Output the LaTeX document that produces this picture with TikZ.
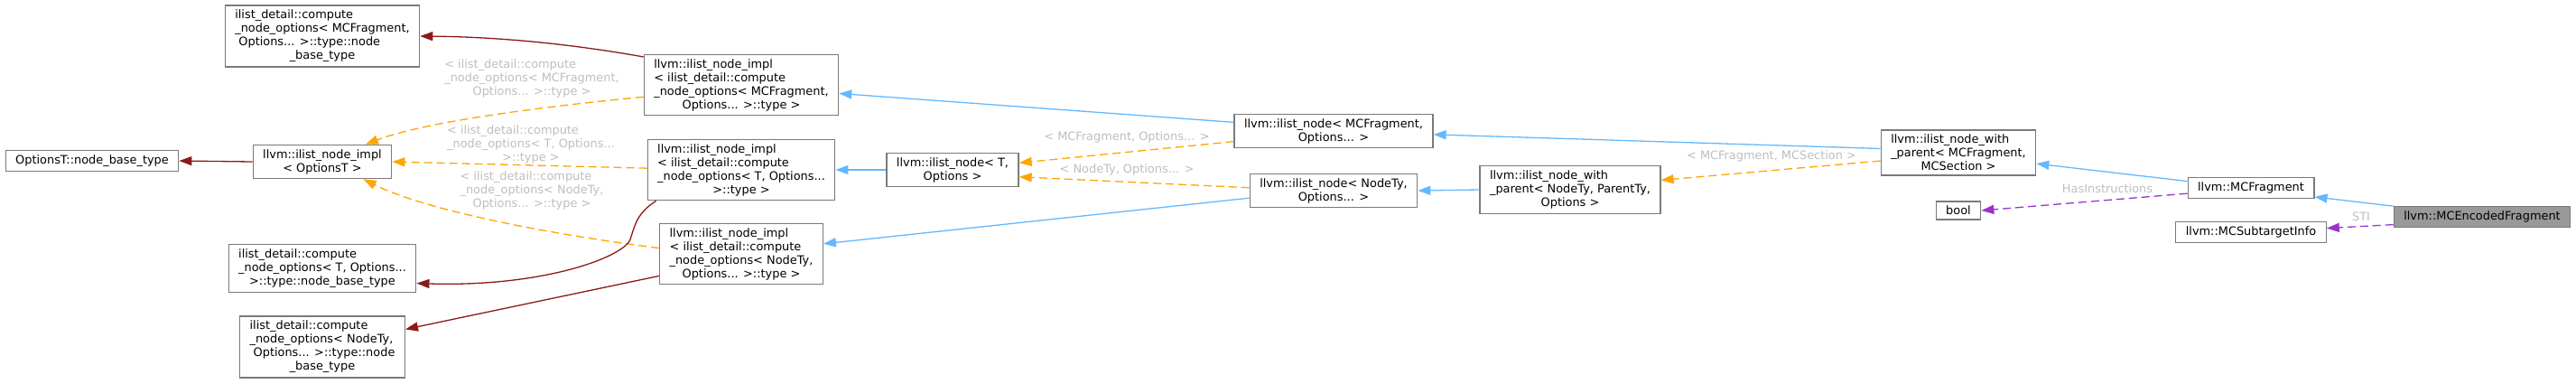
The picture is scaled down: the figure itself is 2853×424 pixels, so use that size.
\documentclass[tikz,border=0pt]{standalone}
\usepackage{fontspec}
\setmainfont{DejaVu Sans}
\usetikzlibrary{arrows.meta}
\definecolor{clsborder}{HTML}{7A7A7A}
\definecolor{curfill}{HTML}{999999}
\definecolor{lblgray}{HTML}{BEBEBE}
\definecolor{pubblue}{HTML}{63B8FF}
\definecolor{tplorange}{HTML}{FFA500}
\definecolor{usepurple}{HTML}{9A32CD}
\definecolor{privred}{HTML}{8B1A1A}
\newcommand{\dfont}{\fontsize{12.9pt}{15pt}\selectfont}
\newcommand{\lastln}[1]{\hfill#1\hfill\mbox{}}

\begin{document}
\begin{tikzpicture}[
    x=1pt, y=-1pt,
    cls/.style={rectangle, draw=clsborder, fill=white, line width=1.2pt,
                inner xsep=11pt, inner ysep=5pt, align=left, font=\dfont},
    cur/.style={cls, fill=curfill},
    lbl/.style={font=\dfont, text=lblgray, align=left, inner sep=0pt},
    tip/.style={-{Triangle[length=14pt, width=10pt]}, line width=1.3pt},
    pub/.style={tip, draw=pubblue},
    tpl/.style={tip, draw=tplorange, dash pattern=on 9pt off 5pt},
    usg/.style={tip, draw=usepurple, dash pattern=on 9pt off 5pt},
    priv/.style={tip, draw=privred}
]
\useasboundingbox (0,0) rectangle (2853,424);

% Leftmost column: node base types
\node[cls] (optbase) at (102,178) {OptionsT::node\_base\_type};
\node[cls] (mcfbase) at (357,40)
    {ilist\_detail::compute\\\_node\_options< MCFragment,\\\ Options... >::type::node\\\lastln{\_base\_type}};
\node[cls] (implopt) at (357,179) {llvm::ilist\_node\_impl\\\lastln{< OptionsT >}};
\node[cls] (tbase) at (357,297)
    {ilist\_detail::compute\\\_node\_options< T, Options...\\\lastln{>::type::node\_base\_type}};
\node[cls] (ntybase) at (357,384)
    {ilist\_detail::compute\\\_node\_options< NodeTy,\\\ Options... >::type::node\\\lastln{\_base\_type}};

% ilist_node_impl instantiations
\node[cls] (implmcf) at (821,94)
    {llvm::ilist\_node\_impl\\< ilist\_detail::compute\\\_node\_options< MCFragment,\\\lastln{Options... >::type >}};
\node[cls] (implt) at (821,188)
    {llvm::ilist\_node\_impl\\< ilist\_detail::compute\\\_node\_options< T, Options...\\\lastln{>::type >}};
\node[cls] (implnty) at (821,281)
    {llvm::ilist\_node\_impl\\< ilist\_detail::compute\\\_node\_options< NodeTy,\\\lastln{Options... >::type >}};

% ilist_node layer
\node[cls] (nodet) at (1055,188) {llvm::ilist\_node< T,\\\lastln{Options >}};
\node[cls] (nodemcf) at (1477,145) {llvm::ilist\_node< MCFragment,\\\lastln{Options... >}};
\node[cls] (nodenty) at (1477,211) {llvm::ilist\_node< NodeTy,\\\lastln{Options... >}};

% ilist_node_with_parent layer
\node[cls] (wpnty) at (1739,210) {llvm::ilist\_node\_with\\\_parent< NodeTy, ParentTy,\\\lastln{Options >}};
\node[cls] (wpmcf) at (2169,169) {llvm::ilist\_node\_with\\\_parent< MCFragment,\\\lastln{MCSection >}};
\node[cls] (boolty) at (2169,233) {bool};

% Fragment classes
\node[cls] (mcfrag) at (2493,208) {llvm::MCFragment};
\node[cls] (subtgt) at (2493,257) {llvm::MCSubtargetInfo};
\node[cur] (encfrag) at (2749,240) {llvm::MCEncodedFragment};

% Right part of the graph
\draw[pub] (encfrag.north west) -- (mcfrag.-8);
\draw[usg] (encfrag.185) -- (subtgt.3);
\draw[pub] (mcfrag.174) -- (wpmcf.-8);
\draw[usg] (mcfrag.185) -- (boolty.east);
\draw[tpl] (wpmcf.186) -- (wpnty.6);
\draw[pub] (wpmcf.177) -- (nodemcf.-2);
\draw[pub] (wpnty.west) -- (nodenty.east);

% Middle part
\draw[tpl] (nodemcf.186) -- (nodet.6);
\draw[tpl] (nodenty.178) -- (nodet.-6);
\draw[pub] (nodemcf.175) -- (implmcf.-5);
\draw[pub] (nodenty.185) -- (implnty.7);
\draw[pub] (nodet.west) -- (implt.east);

% Left part
\draw[tpl] (implmcf.187) .. controls (600,118) and (470,135) .. (implopt.22);
\draw[tpl] (implt.179) -- (implopt.east);
\draw[tpl] (implnty.176) .. controls (600,258) and (470,232) .. (implopt.-23);
\draw[priv] (implmcf.164) .. controls (640,50) and (560,41) .. (mcfbase.east);
\draw[priv] (implt.200) .. controls (705,236) and (703,250) .. (698,265)
    .. controls (690,285) and (600,318) .. (tbase.-9);
\draw[priv] (implnty.195) -- (ntybase.12);
\draw[priv] (implopt.west) -- (optbase.east);

% Edge labels
\node[lbl] (lblmcf) at (589,87)
    {< ilist\_detail::compute\\\_node\_options< MCFragment,\\\lastln{Options... >::type >}};
\node[lbl] (lblt) at (588,160)
    {< ilist\_detail::compute\\\_node\_options< T, Options...\\\lastln{>::type >}};
\node[lbl] (lblnty) at (589,211)
    {< ilist\_detail::compute\\\_node\_options< NodeTy,\\\lastln{Options... >::type >}};
\node[lbl] (lblnodemcf) at (1248,152) {< MCFragment, Options... >};
\node[lbl] (lblnodenty) at (1248,188) {< NodeTy, Options... >};
\node[lbl] (lblwp) at (1962,173) {< MCFragment, MCSection >};
\node[lbl] (lblhas) at (2334,209) {HasInstructions};
\node[lbl] (lblsti) at (2615,240) {STI};

\end{tikzpicture}
\end{document}
